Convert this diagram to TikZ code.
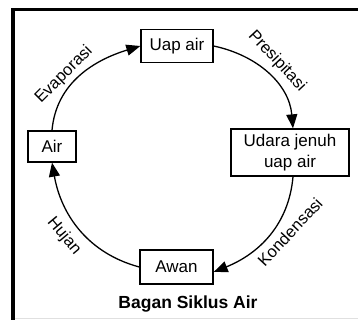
\documentclass[tikz,border=0pt]{standalone}
\usepackage{fontspec}
\setmainfont{Liberation Sans}
\usepackage{tikz}
\usetikzlibrary{arrows.meta}

\tikzset{
  stage/.style={draw=black, line width=1.3pt, inner sep=0pt, align=center, font=\fontsize{17}{21}\selectfont},
  flow/.style={line width=1.3pt, -{Triangle[length=14pt, width=11pt]}},
  flowlabel/.style={inner sep=0pt, font=\fontsize{16.5}{20}\selectfont}
}

\begin{document}
\begin{tikzpicture}[x=1pt, y=-1pt]

\useasboundingbox (0, 0) rectangle (358, 320);

% draw frame
\draw[line width=3.5pt] (13, 320) -- (13, 9.5) -- (358, 9.5);
\draw[black!12, line width=1pt] (15, 318.5) -- (358, 318.5);

% draw stages
\node[stage, minimum width=72, minimum height=33] (uap) at (177, 46) {Uap air};
\node[stage, minimum width=48, minimum height=31] (air) at (52, 146.5) {Air};
\node[stage, minimum width=118, minimum height=47] (udara) at (290, 152.5) {Udara jenuh\\uap air};
\node[stage, minimum width=73, minimum height=34] (awan) at (176.5, 267) {Awan};

% draw cycle arrows
\draw[flow] (air.north) to[out=85, in=197] (uap.west);
\draw[flow] (uap.east) to[out=-12, in=95] ([xshift=3]udara.north);
\draw[flow] ([xshift=3]udara.south) to[out=-95, in=22] ([yshift=-5]awan.east);
\draw[flow] (awan.west) to[out=165, in=-80] (air.south);

% draw labels
\node[flowlabel, rotate=45] (evap) at (64, 75) {Evaporasi};
\node[flowlabel, rotate=-47] (pres) at (277, 61) {Presipitasi};
\node[flowlabel, rotate=47] (kond) at (290, 232) {Kondensasi};
\node[flowlabel, rotate=-50] (hujan) at (64, 236) {Hujan};

% draw title
\node[font=\fontsize{17.5}{21}\selectfont\bfseries] (title) at (188, 304) {Bagan Siklus Air};

\end{tikzpicture}
\end{document}
